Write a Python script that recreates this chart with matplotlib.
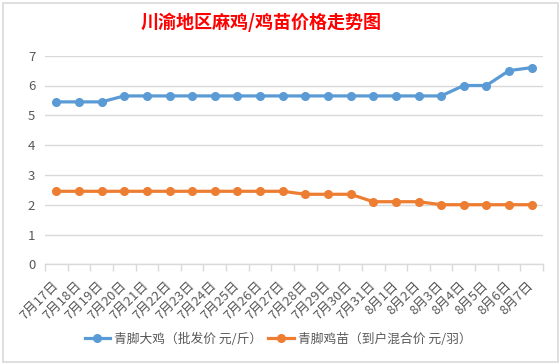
import matplotlib
matplotlib.use("Agg")
import matplotlib.pyplot as plt
from matplotlib.patches import Rectangle
from matplotlib.lines import Line2D

plt.rcParams['font.family'] = ['Noto Sans CJK SC', 'DejaVu Sans']

dates = ["7月17日", "7月18日", "7月19日", "7月20日", "7月21日", "7月22日", "7月23日",
         "7月24日", "7月25日", "7月26日", "7月27日", "7月28日", "7月29日", "7月30日",
         "7月31日", "8月1日", "8月2日", "8月3日", "8月4日", "8月5日", "8月6日", "8月7日"]
big_chicken = [5.45, 5.45, 5.45, 5.65, 5.65, 5.65, 5.65, 5.65, 5.65, 5.65, 5.65,
               5.65, 5.65, 5.65, 5.65, 5.65, 5.65, 5.65, 6.0, 6.0, 6.5, 6.6]
chick = [2.45, 2.45, 2.45, 2.45, 2.45, 2.45, 2.45, 2.45, 2.45, 2.45, 2.45,
         2.35, 2.35, 2.35, 2.1, 2.1, 2.1, 2.0, 2.0, 2.0, 2.0, 2.0]
series_names = ["青脚大鸡（批发价 元/斤）", "青脚鸡苗（到户混合价 元/羽）"]
title = "川渝地区麻鸡/鸡苗价格走势图"

W, H = 560, 364
fig = plt.figure(figsize=(W / 100, H / 100), dpi=100)
fig.patch.set_facecolor('white')

# chart border
fig.add_artist(Rectangle((2.5 / W, 1 - 361.5 / H), 555 / W, 359 / H,
                         transform=fig.transFigure, fill=False,
                         edgecolor='#d9d9d9', lw=1.2))

ax = fig.add_axes([45 / W, 1 - 264.3 / H, 498 / W, (264.3 - 55.7) / H])
x = list(range(len(dates)))
blue = '#5b9bd5'
orange = '#ed7d31'
ax.plot(x, big_chicken, color=blue, lw=2.3, marker='o', ms=5.5, label=series_names[0])
ax.plot(x, chick, color=orange, lw=2.3, marker='o', ms=5.5, label=series_names[1])

ax.set_xlim(-0.5, len(dates) - 0.5)
ax.set_ylim(0, 7)
ax.set_yticks(range(0, 8))
ax.grid(axis='y', color='#d9d9d9', lw=1)
ax.set_axisbelow(True)
for s in ['top', 'right', 'left']:
    ax.spines[s].set_visible(False)
ax.spines['bottom'].set_color('#d9d9d9')
ax.spines['bottom'].set_linewidth(1)
ax.tick_params(axis='y', length=0, pad=7, labelsize=9.5, labelcolor='#595959')

ax.set_xticks([i + 0.5 for i in range(-1, len(dates))], minor=False)
ax.set_xticklabels([])
ax.tick_params(axis='x', which='major', length=5, color='#d9d9d9', width=1)
ax.set_xticks(x, minor=True)
ax.set_xticklabels(dates, minor=True, rotation=45, ha='right', va='center',
                   rotation_mode='anchor', fontsize=9.5, color='#595959')
ax.tick_params(axis='x', which='minor', length=0, pad=14)

fig.text(261 / W, 1 - 22 / H, title, color='#ff0000', fontsize=13,
         ha='center', va='center', fontweight='bold')

handles = [Line2D([], [], color=blue, lw=2.3, marker='o', ms=5.5),
           Line2D([], [], color=orange, lw=2.3, marker='o', ms=5.5)]
fig.legend(handles, series_names, loc='center', bbox_to_anchor=(278 / W, 1 - 339 / H),
           ncol=2, frameon=False, fontsize=9.2, labelcolor='#595959',
           handlelength=2.0, columnspacing=0.5, handletextpad=0.3)

fig.savefig('out.png', dpi=100, facecolor='white')
